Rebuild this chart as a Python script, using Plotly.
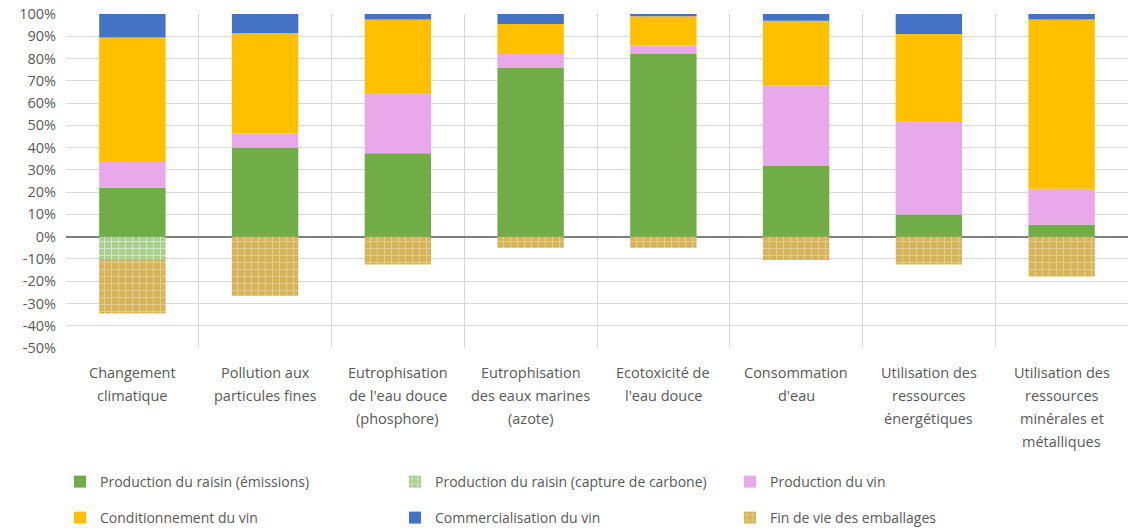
import plotly.graph_objects as go

categories = [
    "Changement<br>climatique",
    "Pollution aux<br>particules fines",
    "Eutrophisation<br>de l'eau douce<br>(phosphore)",
    "Eutrophisation<br>des eaux marines<br>(azote)",
    "Ecotoxicité de<br>l'eau douce",
    "Consommation<br>d'eau",
    "Utilisation des<br>ressources<br>énergétiques",
    "Utilisation des<br>ressources<br>minérales et<br>métalliques",
]

raisin_emissions = [22, 40, 37.5, 76, 82, 32, 10, 5.5]
raisin_capture = [-10, 0, 0, 0, 0, 0, 0, 0]
production_vin = [11.5, 6.5, 27, 6, 4, 36, 42, 16]
conditionnement = [56, 45, 33, 13.5, 13, 29, 39, 76]
commercialisation = [10.5, 8.5, 2.5, 4.5, 1, 3, 9, 2.5]
fin_de_vie = [-24.5, -26.5, -12.5, -5, -5, -10.5, -12.5, -18]

ytick_vals = list(range(-50, 101, 10))
ytick_text = [f"{v}%" for v in ytick_vals]

series = [
    ("Production du raisin (émissions)", raisin_emissions, "#70AD47", None, "legend"),
    ("Production du raisin (capture de carbone)", raisin_capture, "#A9D18E",
     dict(shape="+", fgcolor="white", size=7, solidity=0.25), "legend"),
    ("Production du vin", production_vin, "#E9A8E9", None, "legend"),
    ("Conditionnement du vin", conditionnement, "#FFC000", None, "legend2"),
    ("Commercialisation du vin", commercialisation, "#4472C4", None, "legend2"),
    ("Fin de vie des emballages", fin_de_vie, "#D6B45A",
     dict(shape="+", fgcolor="#F3E6B8", size=7, solidity=0.3), "legend2"),
]

font_color = "#595959"
font_family = "Open Sans, Liberation Sans, sans-serif"

fig = go.Figure()
for name, vals, color, pattern, lg in series:
    marker = dict(color=color, line=dict(width=0))
    if pattern:
        marker["pattern"] = pattern
    fig.add_trace(go.Bar(x=categories, y=vals, name=name, marker=marker,
                         legend=lg, hoverinfo="skip"))

# category labels, one annotation per line for Excel-like line spacing
line_gap = 23
for cat in categories:
    for i, line in enumerate(cat.split("<br>")):
        fig.add_annotation(
            x=cat, y=0, xref="x", yref="paper", text=line, showarrow=False,
            xanchor="center", yanchor="middle", yshift=-(24 + i * line_gap),
            font=dict(size=14.5, color=font_color, family=font_family),
        )

leg_common = dict(
    orientation="h", xref="container", yref="container",
    xanchor="left", yanchor="top",
    entrywidth=290, entrywidthmode="pixels",
    font=dict(size=14, color=font_color), traceorder="normal",
    itemwidth=30, bgcolor="rgba(0,0,0,0)",
)

fig.update_layout(
    width=1135, height=528,
    barmode="relative",
    bargap=0.5,
    plot_bgcolor="white",
    paper_bgcolor="white",
    margin=dict(l=66, r=7, t=14, b=180, autoexpand=False),
    font=dict(family=font_family, size=14, color=font_color),
    xaxis=dict(
        type="category",
        tickson="boundaries",
        showgrid=True,
        gridcolor="#D9D9D9",
        gridwidth=1,
        ticks="",
        showline=False,
        showticklabels=False,
        automargin=False,
        range=[-0.5, 7.5],
    ),
    yaxis=dict(
        range=[-50, 100],
        tickvals=ytick_vals,
        ticktext=ytick_text,
        showgrid=True,
        gridcolor="#D9D9D9",
        gridwidth=1,
        zeroline=True,
        zerolinecolor="#7F7F7F",
        zerolinewidth=2,
        tickfont=dict(size=14.5, color=font_color),
        ticks="",
        showline=False,
        automargin=False,
        ticklabelstandoff=9,
    ),
    legend=dict(x=60 / 1135, y=1 - 466 / 528, **leg_common),
    legend2=dict(x=60 / 1135, y=1 - 502 / 528, **leg_common),
)

fig.write_html("out.html")
